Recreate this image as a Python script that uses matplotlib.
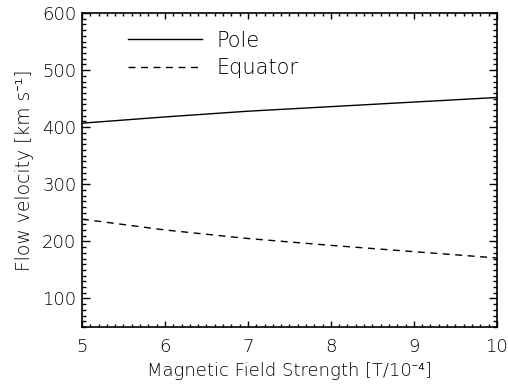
import numpy as np
import matplotlib
matplotlib.use("Agg")
import matplotlib.pyplot as plt
from matplotlib.ticker import MultipleLocator

# values
field = [5, 6, 7, 8, 9, 10]
pole = [407, 418, 428, 436, 444, 452]
equator = [239, 220, 205, 193, 182, 171]

plt.rcParams['font.family'] = ['DejaVu Sans', 'Noto Sans', 'Liberation Sans']
plt.rcParams['font.weight'] = 'light'
plt.rcParams['axes.labelweight'] = 'light'

fig = plt.figure(figsize=(5.08, 3.86), dpi=100)
ax = fig.add_axes([0.1614, 0.1528, 0.978 - 0.1614, 0.9663 - 0.1528])

ax.plot(field, pole, color='black', lw=1.0, label='Pole')
ax.plot(field, equator, color='black', lw=1.0, ls=(0, (5, 4)), label='Equator')

ax.set_xlim(5, 10)
ax.set_ylim(50, 600)
ax.xaxis.set_major_locator(MultipleLocator(1))
ax.xaxis.set_minor_locator(MultipleLocator(0.1))
ax.yaxis.set_major_locator(MultipleLocator(100))
ax.yaxis.set_minor_locator(MultipleLocator(10))

ax.tick_params(axis='both', which='both', direction='in', top=True, right=True,
               colors='black', labelsize=13, width=1.0)
ax.tick_params(axis='x', which='major', length=4.5, pad=8)
ax.tick_params(axis='x', which='minor', length=2.3)
ax.tick_params(axis='y', which='major', length=6, pad=4)
ax.tick_params(axis='y', which='minor', length=3)
for s in ax.spines.values():
    s.set_linewidth(1.2)

ax.set_xlabel('Magnetic Field Strength [T/10\u207b\u2074]', fontsize=13, labelpad=4)
ax.set_ylabel('Flow velocity [km s\u207b\u00b9]', fontsize=13.5, labelpad=6)

ax.legend(loc='upper left', bbox_to_anchor=(0.09, 0.97), frameon=False, fontsize=15,
          handlelength=3.55, handletextpad=0.72, labelspacing=0.36, borderaxespad=0)

plt.savefig('out.png', dpi=100)
